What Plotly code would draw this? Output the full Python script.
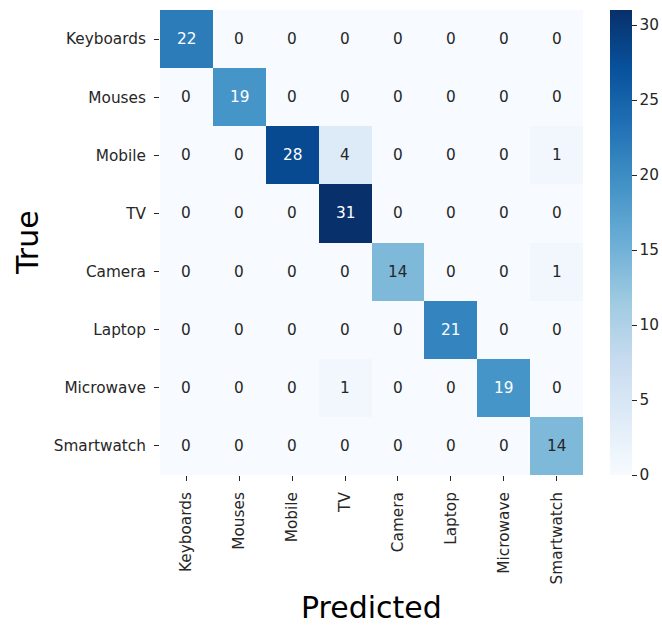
import plotly.graph_objects as go

labels = ["Keyboards", "Mouses", "Mobile", "TV", "Camera", "Laptop", "Microwave", "Smartwatch"]
matrix = [
    [22, 0, 0, 0, 0, 0, 0, 0],
    [0, 19, 0, 0, 0, 0, 0, 0],
    [0, 0, 28, 4, 0, 0, 0, 1],
    [0, 0, 0, 31, 0, 0, 0, 0],
    [0, 0, 0, 0, 14, 0, 0, 1],
    [0, 0, 0, 0, 0, 21, 0, 0],
    [0, 0, 0, 1, 0, 0, 19, 0],
    [0, 0, 0, 0, 0, 0, 0, 14],
]
cbar_ticks = [0, 5, 10, 15, 20, 25, 30]

blues = ["#f7fbff", "#deebf7", "#c6dbef", "#9ecae1", "#6baed6",
         "#4292c6", "#2171b5", "#08519c", "#08306b"]
colorscale = [[i / (len(blues) - 1), c] for i, c in enumerate(blues)]

zmax = max(max(r) for r in matrix)
FONT = "DejaVu Sans"
TXT = "#262626"
FS = 15.3

fig = go.Figure()
fig.add_trace(go.Heatmap(
    z=matrix, x=labels, y=labels,
    colorscale=colorscale, zmin=0, zmax=zmax,
    xgap=0, ygap=0,
    colorbar=dict(
        x=1.064, xanchor="left", xref="paper", xpad=0, ypad=0,
        y=0.5, yanchor="middle", len=1.0, lenmode="fraction",
        thickness=22, outlinewidth=0,
        tickvals=cbar_ticks, ticks="outside", ticklen=5, tickwidth=1,
        tickcolor=TXT, tickfont=dict(family=FONT, size=FS, color=TXT),
    ),
    hoverinfo="skip",
))

annotations = []
for i, row in enumerate(matrix):
    for j, v in enumerate(row):
        annotations.append(dict(
            x=labels[j], y=labels[i], xref="x", yref="y", text=str(v),
            showarrow=False,
            font=dict(family=FONT, size=FS, color="white" if v > 16 else TXT),
        ))

annotations.append(dict(
    x=-0.313, y=0.5, xref="paper", yref="paper", text="True", textangle=-90,
    showarrow=False, xanchor="center", yanchor="middle",
    font=dict(family=FONT, size=30, color="black"),
))
annotations.append(dict(
    x=0.5, y=-0.284, xref="paper", yref="paper", text="Predicted",
    showarrow=False, xanchor="center", yanchor="middle",
    font=dict(family=FONT, size=30, color="black"),
))

fig.update_layout(
    width=662, height=625,
    margin=dict(l=160, r=79, t=10, b=150, autoexpand=False),
    paper_bgcolor="white", plot_bgcolor="white",
    annotations=annotations,
    xaxis=dict(
        tickangle=-90, ticks="outside", ticklen=5, tickcolor=TXT,
        tickfont=dict(family=FONT, size=FS, color=TXT),
        ticklabelstandoff=5,
        showgrid=False, zeroline=False, showline=False,
    ),
    yaxis=dict(
        autorange="reversed", ticks="outside", ticklen=5, tickcolor=TXT,
        tickfont=dict(family=FONT, size=FS, color=TXT),
        ticklabelstandoff=5,
        showgrid=False, zeroline=False, showline=False,
    ),
)

fig.write_html("out.html")
